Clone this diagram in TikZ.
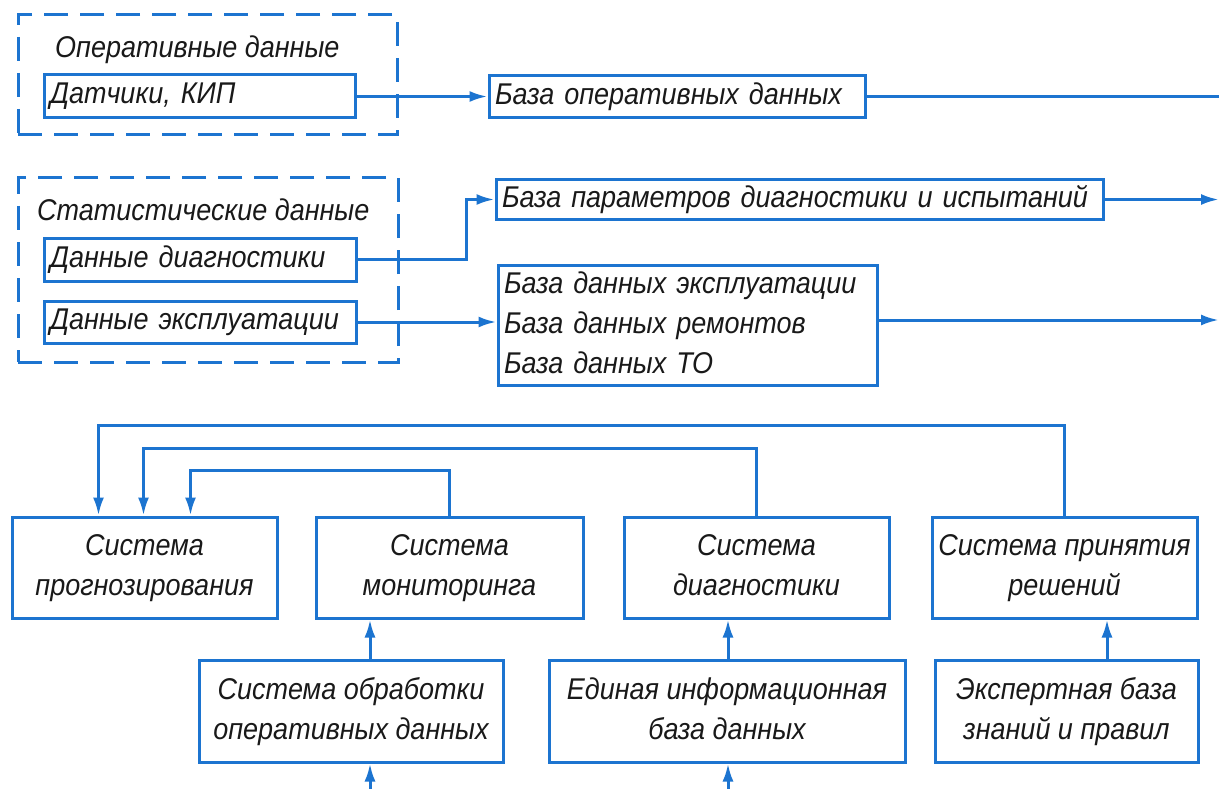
\documentclass[tikz,border=0pt]{standalone}
\usepackage{fontspec}
\setmainfont{Liberation Sans}[FakeStretch=0.9]
\usetikzlibrary{arrows.meta}
\definecolor{blu}{RGB}{28,116,208}
\definecolor{ink}{RGB}{25,25,25}
\begin{document}
\begin{tikzpicture}[x=1pt,y=-1pt,
  txt/.style={font=\fontsize{30}{40}\selectfont\itshape, text=ink},
  box/.style={txt, draw=blu, line width=3pt, inner sep=0pt, align=center},
  lbox/.style={box, align=left, inner xsep=6pt},
  dbox/.style={draw=blu, line width=3pt, dash pattern=on 24pt off 12pt},
  arr/.style={draw=blu, line width=3pt, -{Latex[length=18pt,width=11pt]}},
  ln/.style={draw=blu, line width=3pt}]
\useasboundingbox[fill=white] (0,0) rectangle (1219,789);
% dashed groups
\node[dbox, minimum width=379pt, minimum height=120pt] (gop) at (207.5,75) {};
\node[dbox, minimum width=380pt, minimum height=184pt] (gst) at (208,270) {};
\node[txt, anchor=west, inner sep=0pt] (top) at (55,50) {Оперативные данные};
\node[txt, anchor=west, inner sep=0pt] (tst) at (37,210) {Статистические данные};
% source boxes
\node[lbox, text width=299pt, minimum height=43pt] (dat) at (199.5,96.5) {Датчики, КИП};
\node[lbox, text width=300pt, minimum height=43pt] (diag) at (200,259.5) {Данные диагностики};
\node[lbox, text width=300pt, minimum height=42pt] (expl) at (200,322) {Данные эксплуатации};
% databases
\node[lbox, text width=364pt, minimum height=42pt] (bod) at (677,97) {База оперативных данных};
\node[lbox, text width=595pt, minimum height=39pt] (bpd) at (799.5,199.5) {База параметров диагностики и испытаний};
\node[lbox, text width=367pt, minimum height=116pt] (bde) at (687.5,325) {База данных эксплуатации\strut\\База данных ремонтов\strut\\База данных ТО\strut};
% systems
\node[box, minimum width=265pt, minimum height=101pt] (prog) at (144.5,567.5) {Система\strut\\прогнозирования\strut};
\node[box, minimum width=267pt, minimum height=101pt] (mon) at (449.5,567.5) {Система\strut\\мониторинга\strut};
\node[box, minimum width=265pt, minimum height=101pt] (dgs) at (756.5,567.5) {Система\strut\\диагностики\strut};
\node[box, minimum width=265pt, minimum height=101pt] (dec) at (1064.5,567.5) {Система принятия\strut\\решений\strut};
\node[box, minimum width=304pt, minimum height=102pt] (obr) at (351,711) {Система обработки\strut\\оперативных данных\strut};
\node[box, minimum width=356pt, minimum height=102pt] (edi) at (727,711) {Единая информационная\strut\\база данных\strut};
\node[box, minimum width=263pt, minimum height=102pt] (exs) at (1066.5,711) {Экспертная база\strut\\знаний и правил\strut};
% helper coordinates
\coordinate (r1) at (1219,97);
\coordinate (r2) at (1219,199.5);
\coordinate (r3) at (1219,320);
\coordinate (xa) at (370,0);
\coordinate (xb) at (728,0);
\coordinate (xc) at (1107,0);
\coordinate (b1) at (370,789);
\coordinate (b2) at (728,789);
% connectors, upper part
\draw[arr] (dat.east) -- (dat.east -| bod.west);
\draw[arr] (diag.east) -- ++(109,0) |- (bpd.west);
\draw[arr] (expl.east) -- (expl.east -| bde.west);
\draw[ln] (bod.east) -- (r1);
\draw[arr] (bpd.east) -- (r2);
\draw[arr] (bde.east |- r3) -- (r3);
% feedback lines
\draw[arr] (dec.north) -- ++(0,-90) -| ([xshift=88pt]prog.north west);
\draw[arr] (dgs.north) -- ++(0,-67) -| ([xshift=133pt]prog.north west);
\draw[arr] (mon.north) -- ++(0,-45) -| ([xshift=180pt]prog.north west);
% upward arrows
\draw[arr] (obr.north -| xa) -- (mon.south -| xa);
\draw[arr] (edi.north -| xb) -- (dgs.south -| xb);
\draw[arr] (exs.north -| xc) -- (dec.south -| xc);
\draw[arr] (b1) -- (obr.south -| b1);
\draw[arr] (b2) -- (edi.south -| b2);
\end{tikzpicture}
\end{document}
